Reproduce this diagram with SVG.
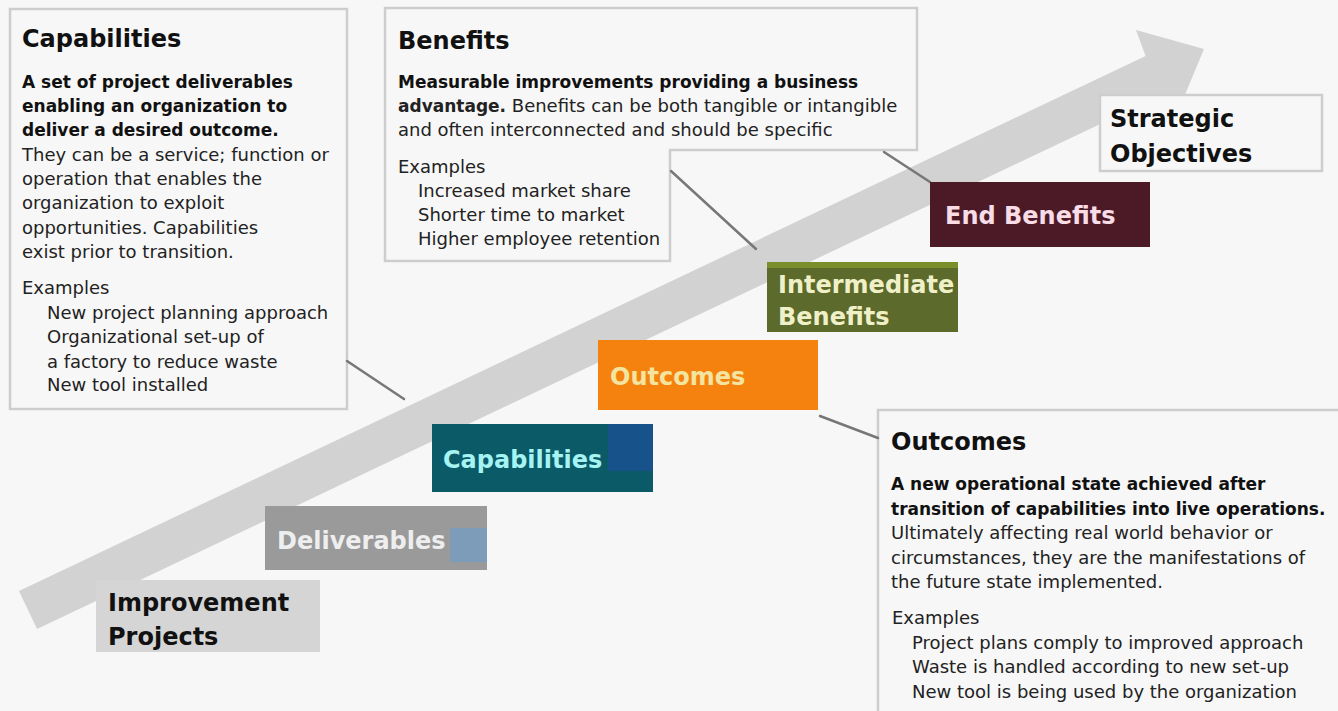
<svg xmlns="http://www.w3.org/2000/svg" width="1338" height="711" viewBox="0 0 1338 711">
<style>
  text { font-family: "DejaVu Sans", "Verdana", sans-serif; }
  .title { font-size: 24px; font-weight: bold; fill: #111; }
  .bb { font-size: 17px; font-weight: bold; fill: #111; }
  .bt { font-size: 18px; fill: #222; }
  .box { fill: #f7f7f7; stroke: #cdcdcd; stroke-width: 2.5; }
  .node { font-size: 24px; font-weight: bold; }
  .conn { stroke: #777777; stroke-width: 2.5; fill: none; stroke-linecap: round; }
</style>
<rect width="1338" height="711" fill="#f7f7f7"/>

<g id="capabilities-box">
  <rect class="box" x="10" y="9" width="337" height="400"/>
  <text class="title" x="22" y="47">Capabilities</text>
  <text class="bb" x="22" y="88">A set of project deliverables</text>
  <text class="bb" x="22" y="112">enabling an organization to</text>
  <text class="bb" x="22" y="136">deliver a desired outcome.</text>
  <text class="bt" x="22" y="161">They can be a service; function or</text>
  <text class="bt" x="22" y="185">operation that enables the</text>
  <text class="bt" x="22" y="209">organization to exploit</text>
  <text class="bt" x="22" y="234">opportunities. Capabilities</text>
  <text class="bt" x="22" y="258">exist prior to transition.</text>
  <text class="bt" x="22" y="294">Examples</text>
  <text class="bt" x="47" y="319">New project planning approach</text>
  <text class="bt" x="47" y="343">Organizational set-up of</text>
  <text class="bt" x="47" y="368">a factory to reduce waste</text>
  <text class="bt" x="47" y="391">New tool installed</text>
</g>

<g id="benefits-box">
  <polygon class="box" points="385,8 917,8 917,150 670,150 670,261 385,261"/>
  <text class="title" x="398" y="49">Benefits</text>
  <text class="bb" x="398" y="88">Measurable improvements providing a business</text>
  <text class="bt" x="398" y="112"><tspan font-weight="bold" font-size="17">advantage.</tspan> Benefits can be both tangible or intangible</text>
  <text class="bt" x="398" y="136">and often interconnected and should be specific</text>
  <text class="bt" x="398" y="173">Examples</text>
  <text class="bt" x="418" y="197">Increased market share</text>
  <text class="bt" x="418" y="221">Shorter time to market</text>
  <text class="bt" x="418" y="245">Higher employee retention</text>
</g>

<g id="outcomes-box">
  <rect class="box" x="878" y="410" width="470" height="310"/>
  <text class="title" x="891" y="450">Outcomes</text>
  <text class="bb" x="891" y="490">A new operational state achieved after</text>
  <text class="bb" x="891" y="515">transition of capabilities into live operations.</text>
  <text class="bt" x="891" y="539">Ultimately affecting real world behavior or</text>
  <text class="bt" x="891" y="564">circumstances, they are the manifestations of</text>
  <text class="bt" x="891" y="588">the future state implemented.</text>
  <text class="bt" x="892" y="624">Examples</text>
  <text class="bt" x="912" y="649">Project plans comply to improved approach</text>
  <text class="bt" x="912" y="673">Waste is handled according to new set-up</text>
  <text class="bt" x="912" y="698">New tool is being used by the organization</text>
</g>

<g id="arrow">
  <polygon points="19,591 1145.6,55.9 1136,30 1204,49 1175.2,118.3 1163.6,93.9 37,629" fill="#d2d2d2"/>
</g>

<g id="connectors">
  <line class="conn" x1="347" y1="361" x2="404" y2="399"/>
  <line class="conn" x1="671" y1="171" x2="756" y2="249"/>
  <line class="conn" x1="884" y1="152" x2="930" y2="182"/>
  <line class="conn" x1="820" y1="416" x2="878" y2="438"/>
</g>

<g id="strategic-objectives">
  <rect class="box" x="1100" y="95" width="222" height="76"/>
  <text class="title" x="1110" y="127">Strategic</text>
  <text class="title" x="1110" y="162">Objectives</text>
</g>

<g id="improvement-projects">
  <rect x="96" y="580" width="224" height="72" fill="#d5d5d5"/>
  <text class="node" x="108" y="611" fill="#111">Improvement</text>
  <text class="node" x="108" y="645" fill="#111">Projects</text>
</g>

<g id="deliverables">
  <rect x="265" y="506" width="222" height="64" fill="#9a9a9a"/>
  <rect x="450" y="528" width="37" height="34" fill="#7d9cba"/>
  <text class="node" x="277" y="549" fill="#eeeeee" font-size="23">Deliverables</text>
</g>

<g id="capabilities">
  <rect x="432" y="424" width="221" height="68" fill="#0b5a68"/>
  <rect x="608" y="424" width="45" height="47" fill="#17528a"/>
  <text class="node" x="443" y="468" fill="#a6f3f3">Capabilities</text>
</g>

<g id="outcomes">
  <rect x="598" y="340" width="220" height="70" fill="#f5820e"/>
  <text class="node" x="610" y="385" fill="#f3e4a0">Outcomes</text>
</g>

<g id="intermediate-benefits">
  <rect x="767" y="262" width="191" height="70" fill="#5c6a2b"/>
  <rect x="767" y="262" width="191" height="6" fill="#7a8e2c"/>
  <text class="node" x="778" y="293" fill="#f0f0c8">Intermediate</text>
  <text class="node" x="778" y="325" fill="#f0f0c8">Benefits</text>
</g>

<g id="end-benefits">
  <rect x="930" y="182" width="220" height="65" fill="#4c1a27"/>
  <text class="node" x="945" y="224" fill="#f8dde6">End Benefits</text>
</g>
</svg>
